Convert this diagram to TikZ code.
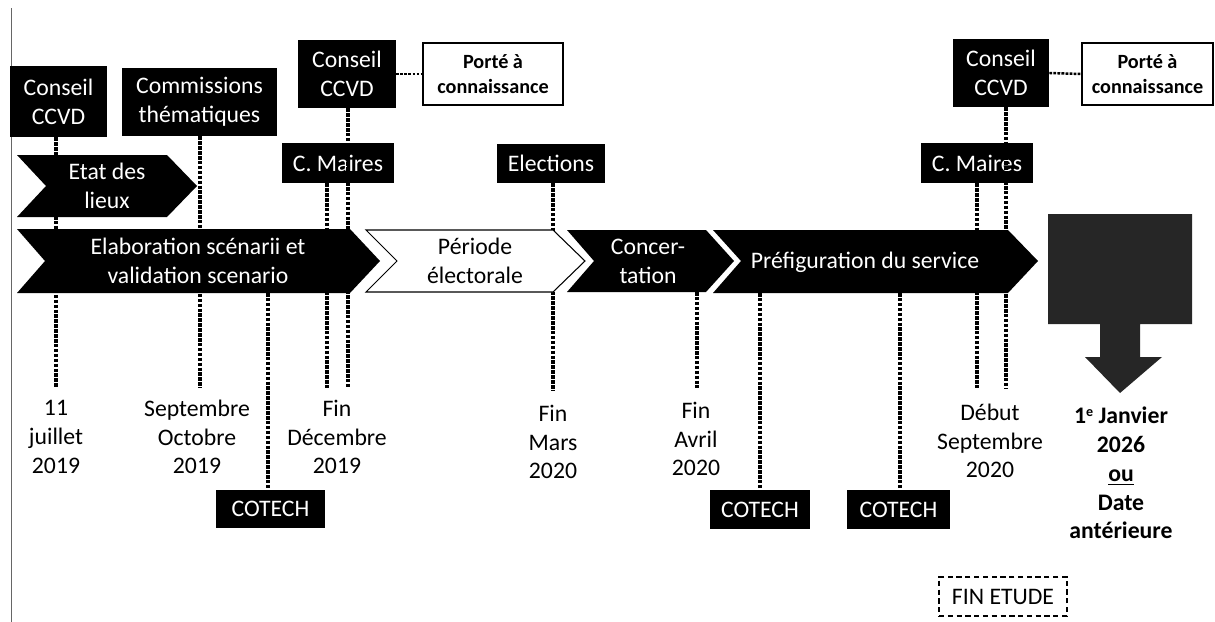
\documentclass[tikz,border=0pt]{standalone}
\usepackage{fontspec}
\setmainfont{Carlito}
\usepackage{tikz}
\usetikzlibrary{positioning}
\newcommand{\mainfs}{\fontsize{13.5}{16.4}\selectfont}
\newcommand{\notefs}{\fontsize{11.5}{14.2}\selectfont\bfseries}

\begin{document}
\begin{tikzpicture}[
    x=0.02cm, y=-0.02cm,
    every node/.style={align=center},
    event/.style={rectangle, fill=black, text=white, inner sep=0pt, font=\mainfs},
    note/.style={rectangle, draw=black, line width=0.6pt, fill=white, inner sep=0pt, font=\notefs},
    phase/.style={fill=black},
    phaselight/.style={fill=white, draw=black, line width=0.6pt},
    phasetext/.style={text=white, font=\mainfs, inner sep=0pt},
    datelbl/.style={font=\mainfs, inner sep=0pt},
    tick/.style={line width=1.8pt, dash pattern=on 2pt off 0.8pt},
    link/.style={line width=1.4pt, dash pattern=on 1.6pt off 0.7pt}
]
\useasboundingbox (0,0) rectangle (1215,622);

% page edge
\draw[black!60, line width=0.4pt] (11,8) -- (11,622);

% Meetings
\node[event, minimum width=1.94cm, minimum height=1.42cm] (ccvdA) at (58.5,101.5) {Conseil\\CCVD};
\node[event, minimum width=3.1cm, minimum height=1.36cm] (comm) at (199.5,102) {Commissions\\thématiques};
\node[event, minimum width=1.96cm, minimum height=1.36cm] (ccvdB) at (347,74) {Conseil\\CCVD};
\node[note, minimum width=2.8cm, minimum height=1.24cm] (porteA) at (493,74) {Porté à\\connaissance};
\node[event, minimum width=2.24cm, minimum height=0.8cm] (mairesA) at (338,163) {C. Maires};
\node[event, minimum width=2.16cm, minimum height=0.78cm] (elections) at (551,163.5) {Elections};
\node[event, minimum width=2.24cm, minimum height=0.8cm] (mairesB) at (977,163) {C. Maires};
\node[event, minimum width=1.92cm, minimum height=1.36cm] (ccvdC) at (1001,73) {Conseil\\CCVD};
\node[note, minimum width=2.62cm, minimum height=1.24cm] (porteB) at (1147.5,74) {Porté à\\connaissance};
\node[event, minimum width=2.18cm, minimum height=0.76cm] (cotechA) at (270.5,509) {COTECH};
\node[event, minimum width=2cm, minimum height=0.78cm] (cotechB) at (760,509.5) {COTECH};
\node[event, minimum width=2.06cm, minimum height=0.78cm] (cotechC) at (898.5,509.5) {COTECH};
\node[draw, line width=0.6pt, dash pattern=on 3pt off 2pt, minimum width=2.56cm, minimum height=0.78cm, inner sep=0pt, font=\mainfs] (finetude) at (1003,596.5) {FIN ETUDE};

% Dates
\node[datelbl] (dJul) at (56,437) {11\\juillet\\2019};
\node[datelbl] (dSepOct) at (197,437) {Septembre\\Octobre\\2019};
\node[datelbl] (dDec) at (337,437) {Fin\\Décembre\\2019};
\node[datelbl] (dMar) at (553,442) {Fin\\Mars\\2020};
\node[datelbl] (dAvr) at (696,439) {Fin\\Avril\\2020};
\node[datelbl] (dSep) at (990,441) {Début\\Septembre\\2020};
\node[datelbl, font=\mainfs\bfseries] (dJan) at (1121,473) {1\raisebox{0.6ex}{\fontsize{8}{8}\selectfont e} Janvier\\2026\\\underline{ou}\\Date\\antérieure};

% line ends
\coordinate (eJul) at (56,388);
\coordinate (eSepOct) at (200,388);
\coordinate (eDec1) at (327,388);
\coordinate (eDec2) at (348,388);
\coordinate (eMar) at (553,391);
\coordinate (eAvr) at (697,388);
\coordinate (eSep1) at (977,388);
\coordinate (eSep2) at (1006,388);
\coordinate (sElab) at (268,293);
\coordinate (sConc) at (697,292);
\coordinate (sPrefA) at (760,293);
\coordinate (sPrefB) at (900,293);

% Dotted links
\draw[tick] (ccvdA.south -| eJul) -- (eJul);
\draw[tick] (comm.south -| eSepOct) -- (eSepOct);
\draw[tick] (sElab) -- (cotechA.north -| sElab);
\draw[tick] (mairesA.south -| eDec1) -- (eDec1);
\draw[tick] (ccvdB.south -| eDec2) -- (eDec2);
\draw[tick] (elections.south -| eMar) -- (eMar);
\draw[tick] (sConc) -- (eAvr);
\draw[tick] (sPrefA) -- (cotechB.north -| sPrefA);
\draw[tick] (sPrefB) -- (cotechC.north -| sPrefB);
\draw[tick] (mairesB.south -| eSep1) -- (eSep1);
\draw[tick] (ccvdC.south -| eSep2) -- (eSep2);
\draw[link] (ccvdB.east) -- (porteA.west);
\draw[link] (ccvdC.east) -- (porteB.west);

% Phases
\fill[phase] (17,155) -- (167,155) -- (197,186) -- (167,217) -- (17,217) -- (46,186) -- cycle;
\fill[phase] (17,229) -- (350,229) -- (380,261) -- (350,293) -- (17,293) -- (45,261) -- cycle;
\draw[phaselight] (366,230) -- (553,230) -- (585,261) -- (553,292) -- (366,292) -- (397,261) -- cycle;
\fill[phase] (567,230) -- (706,230) -- (734,261) -- (706,292) -- (567,292) -- (594,261) -- cycle;
\fill[phase] (713,230) -- (1008,230) -- (1038,261) -- (1008,293) -- (713,293) -- (741,261) -- cycle;
\node[phasetext] (etat) at (107,186) {Etat des\\lieux};
\node[phasetext] (elab) at (198,261) {Elaboration scénarii et\\validation scenario};
\node[phasetext, text=black] (periode) at (475,261) {Période\\électorale};
\node[phasetext] (concert) at (648,261) {Concer-\\tation};
\node[phasetext] (prefig) at (865,262) {Préfiguration du service};

% Echeance
\fill[black!85] (1048,214) -- (1192,214) -- (1192,324) -- (1140,324) -- (1140,357) -- (1162,357)
    -- (1120,393) -- (1085,357) -- (1100,357) -- (1100,324) -- (1048,324) -- cycle;

\end{tikzpicture}
\end{document}
